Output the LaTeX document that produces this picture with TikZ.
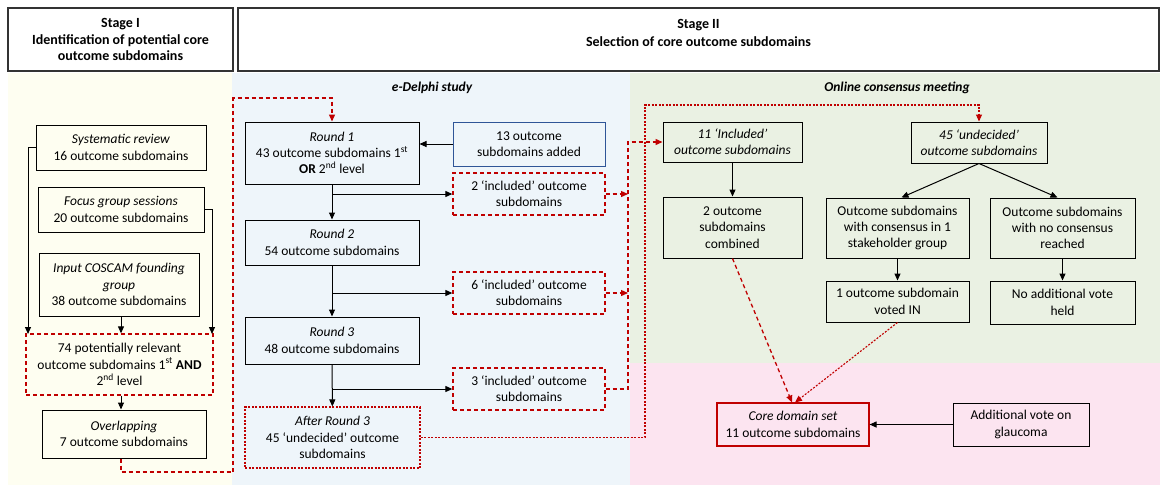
\documentclass[tikz,border=0pt]{standalone}
\usepackage{fontspec}
\setmainfont{Carlito}
\usetikzlibrary{arrows.meta}
\definecolor{bgyel}{HTML}{FEFEF1}
\definecolor{bgblue}{HTML}{EEF5FA}
\definecolor{bggreen}{HTML}{EAF1E3}
\definecolor{bgpink}{HTML}{FCE4F0}
\definecolor{dred}{HTML}{C00000}
\definecolor{dblue}{HTML}{2F5597}
\tikzset{
  sz/.style 2 args={minimum width=#1pt, minimum height=#2pt},
  txt/.style={font=\fontsize{13.5}{16.3}\selectfont, align=center, inner sep=0pt},
  bx/.style={txt, draw=black, line width=1pt},
  hdr/.style={draw=black!80, line width=1.4pt, inner sep=0pt},
  rdbox/.style={txt, draw=dred, line width=1.3pt, dash pattern=on 4pt off 3pt},
  rdotbox/.style={txt, draw=dred, line width=1.1pt, dash pattern=on 2pt off 1.5pt},
  arr/.style={draw=black, line width=1pt, -{Triangle[length=7pt,width=6pt]}},
  rdarr/.style={draw=dred, line width=1.3pt, dash pattern=on 4pt off 3pt, -{Triangle[length=7pt,width=6pt]}},
  rdotarr/.style={draw=dred, line width=1.1pt, dash pattern=on 2pt off 1.5pt, -{Triangle[length=7pt,width=6pt]}},
}
\begin{document}
\begin{tikzpicture}[x=1pt,y=-1pt]
\useasboundingbox (0,0) rectangle (1161,485);
\fill[white] (0,0) rectangle (1161,485);
% backgrounds
\fill[bgyel] (8,73) rectangle (232,485);
\fill[bgblue] (232,73) rectangle (630,485);
\fill[bggreen] (630,73) rectangle (1160,363);
\fill[bgpink] (630,363) rectangle (1160,485);
% headers
\node[txt, hdr, sz={225}{63}, font=\fontsize{14}{16.5}\selectfont\bfseries] (s1) at (120.5,39.5)
  {Stage I\\Identification of potential core\\outcome subdomains};
\node[hdr, sz={921}{63}] (s2) at (698.5,39.5) {};
\node[txt, font=\fontsize{14}{18}\selectfont\bfseries] (s2t) at (698.5,33) {Stage II\\Selection of core outcome subdomains};
\node[txt, font=\fontsize{13.5}{16}\selectfont\bfseries\itshape] (ted) at (432,88) {e-Delphi study};
\node[txt, font=\fontsize{13.5}{16}\selectfont\bfseries\itshape] (tocm) at (897,88) {Online consensus meeting};
% Stage I
\node[bx, sz={170}{45}] (sysrev) at (121,147.5) {\textit{Systematic review}\\16 outcome subdomains};
\node[bx, sz={166}{45}] (focus) at (121,209.5) {\textit{Focus group sessions}\\20 outcome subdomains};
\node[bx, sz={160}{63}] (coscam) at (119,284.5) {\textit{Input COSCAM founding}\\\textit{group}\\38 outcome subdomains};
\node[rdbox, sz={187}{61}] (b74) at (119.5,364.5) {74 potentially relevant\\outcome subdomains 1\textsuperscript{st} \textbf{AND}\\2\textsuperscript{nd} level};
\node[bx, sz={164}{48}] (overlap) at (124,434) {\textit{Overlapping}\\7 outcome subdomains};
\coordinate (l1) at (28,334);
\coordinate (l2) at (212,334);
\draw[arr] (sysrev.west) -| (l1);
\draw[arr] (focus.east) -| (l2);
\draw[arr] ([xshift=2pt]coscam.south) -- ([xshift=2pt]coscam.south |- b74.north);
\draw[arr] ([xshift=1.5pt]b74.south) -- ([xshift=1.5pt]b74.south |- overlap.north);
% e-Delphi
\node[bx, sz={174}{62}] (r1) at (332,153) {\textit{Round 1}\\43 outcome subdomains 1\textsuperscript{st}\\\textbf{OR} 2\textsuperscript{nd} level};
\node[bx, draw=dblue, sz={152}{44}] (add13) at (529,144) {13 outcome\\subdomains added};
\node[rdbox, sz={152}{42}] (inc2) at (529,194) {2 ‘included’ outcome\\subdomains};
\node[bx, sz={174}{45}] (r2) at (332,242.5) {\textit{Round 2}\\54 outcome subdomains};
\node[rdbox, sz={152}{42}] (inc6) at (529,293) {6 ‘included’ outcome\\subdomains};
\node[bx, sz={174}{47}] (r3) at (332,340.5) {\textit{Round 3}\\48 outcome subdomains};
\node[rdbox, sz={152}{42}] (inc3) at (529,389) {3 ‘included’ outcome\\subdomains};
\node[rdotbox, sz={175}{61}] (after3) at (332.5,437.5) {\textit{After Round 3}\\45 ‘undecided’ outcome\\subdomains};
\draw[arr] (add13.west) -- (add13.west -| r1.east);
\draw[arr] (r1) -- (r2);
\draw[arr] (r1.south |- inc2.west) -- (inc2.west);
\draw[arr] (r2) -- (r3);
\draw[arr] (r2.south |- inc6.west) -- (inc6.west);
\draw[arr] (r3) -- (after3);
\draw[arr] (r3.south |- inc3.west) -- (inc3.west);
% red dashed from overlapping to round 1
\coordinate (c1) at (233,472);
\coordinate (c2) at (233,98);
\draw[rdarr] ([xshift=-3pt]overlap.south) |- (c1) -- (c2) -| (r1.north);
% consensus meeting
\node[bx, sz={139}{40}] (inc11) at (732.5,142) {\textit{11 ‘Included’}\\\textit{outcome subdomains}};
\node[bx, sz={136}{41}] (und45) at (979,142.5) {\textit{45 ‘undecided’}\\\textit{outcome subdomains}};
\node[bx, sz={139}{61}] (comb2) at (732.5,227.5) {2 outcome\\subdomains\\combined};
\node[bx, sz={143}{60}] (cons1) at (897.5,228) {Outcome subdomains\\with consensus in 1\\stakeholder group};
\node[bx, sz={145}{60}] (nocons) at (1062.5,228) {Outcome subdomains\\with no consensus\\reached};
\node[bx, sz={143}{41}] (voted) at (897.5,301.5) {1 outcome subdomain\\voted IN};
\node[bx, sz={145}{43}] (noadd) at (1062.5,302.5) {No additional vote\\held};
\node[txt, draw=dred, line width=1.1pt, sz={152}{43}] (core) at (793,424.5) {\textit{Core domain set}\\11 outcome subdomains};
\node[bx, sz={136}{43}] (addvote) at (1021,424.5) {Additional vote on\\glaucoma};
% red dashed from included boxes
\coordinate (vtop) at (628,142);
\draw[rdarr] (inc2.east) -- (inc2.east -| vtop);
\draw[rdarr] (inc6.east) -- (inc6.east -| vtop);
\draw[rdarr] (inc3.east) -| (vtop) -- (inc11.west);
% dotted from after round 3
\coordinate (dtop) at (645,105);
\draw[rdotarr] (after3.east) -| (dtop) -| (und45.north);
% black arrows right
\draw[arr] (inc11) -- (comb2);
\draw[arr] (und45.south) -- ([xshift=4pt]cons1.north);
\draw[arr] (und45.south) -- ([xshift=-5pt]nocons.north);
\draw[arr] (cons1) -- (voted);
\draw[arr] (nocons) -- (noadd);
\draw[arr] (addvote.west) -- (addvote.west -| core.east);
\draw[rdarr] (comb2.south) -- ([xshift=-1pt]core.north);
\draw[rdotarr] (voted.south) -- ([xshift=2pt]core.north);
\end{tikzpicture}
\end{document}
